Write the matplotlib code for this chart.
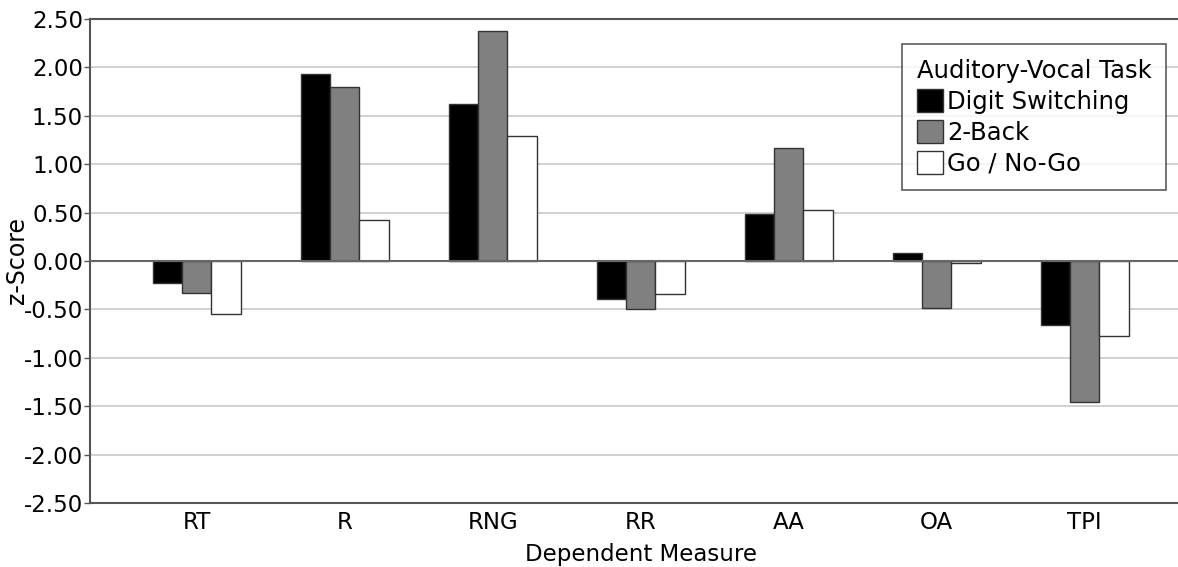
import matplotlib
matplotlib.use("Agg")
import matplotlib.pyplot as plt
import numpy as np
from matplotlib.patches import Patch

categories = ["RT", "R", "RNG", "RR", "AA", "OA", "TPI"]
series_names = ["Digit Switching", "2-Back", "Go / No-Go"]
digit_switching = [-0.23, 1.93, 1.62, -0.39, 0.49, 0.08, -0.66]
two_back = [-0.33, 1.80, 2.38, -0.50, 1.17, -0.49, -1.46]
go_nogo = [-0.55, 0.42, 1.29, -0.34, 0.53, -0.02, -0.77]
yticks = [2.5, 2.0, 1.5, 1.0, 0.5, 0.0, -0.5, -1.0, -1.5, -2.0, -2.5]

colors = ["#000000", "#808080", "#ffffff"]
edge = "#333333"

fig = plt.figure(figsize=(11.78, 5.67), dpi=100)
ax = fig.add_axes([90/1178, 64/567, 1088/1178, 484/567])

x = np.arange(len(categories))
w = 0.198
for i, (vals, c) in enumerate(zip([digit_switching, two_back, go_nogo], colors)):
    ax.bar(x + (i - 1) * w, vals, width=w, color=c, edgecolor=edge, linewidth=1.0, zorder=3)

ax.set_ylim(-2.5, 2.5)
ax.set_xlim(-0.72, 6.63)
ax.set_yticks(yticks)
ax.set_yticklabels([f"{v:.2f}" for v in yticks])
ax.set_xticks(x)
ax.set_xticklabels(categories)

for v in yticks:
    if v == 0.0:
        ax.axhline(v, color="#666666", lw=1.5, zorder=4)
    elif v in (2.5, -2.5):
        pass
    else:
        ax.axhline(v, color="#c8c8c8", lw=1.2, zorder=1)

ax.spines["right"].set_visible(False)
for s in ["left", "top", "bottom"]:
    ax.spines[s].set_color("#555555")
    ax.spines[s].set_linewidth(1.5)

ax.tick_params(axis="y", length=4, width=1, color="#555555", labelsize=16.5, pad=1)
ax.tick_params(axis="x", length=0, labelsize=16.5, pad=6)

ax.set_xlabel("Dependent Measure", fontsize=16.5)
ax.xaxis.set_label_coords((3 + 0.72) / 7.35, -0.082)
ax.set_ylabel("z-Score", fontsize=17)
ax.yaxis.set_label_coords(-61/1088, 0.5)

handles = [Patch(facecolor=c, edgecolor=edge, linewidth=1.0) for c in colors]
leg = ax.legend(handles, series_names, title="Auditory-Vocal Task", loc="upper right",
                bbox_to_anchor=(1076/1088, (503-44)/484), fontsize=17.5, title_fontsize=17.5,
                frameon=True, fancybox=False, edgecolor="#333333", handlelength=1.1,
                handleheight=1.1, handletextpad=0.15, labelspacing=0.25, borderpad=0.6,
                borderaxespad=0, alignment="left")
leg.get_frame().set_linewidth(1.2)
leg.set_zorder(5)

fig.savefig("out.png", dpi=100)
